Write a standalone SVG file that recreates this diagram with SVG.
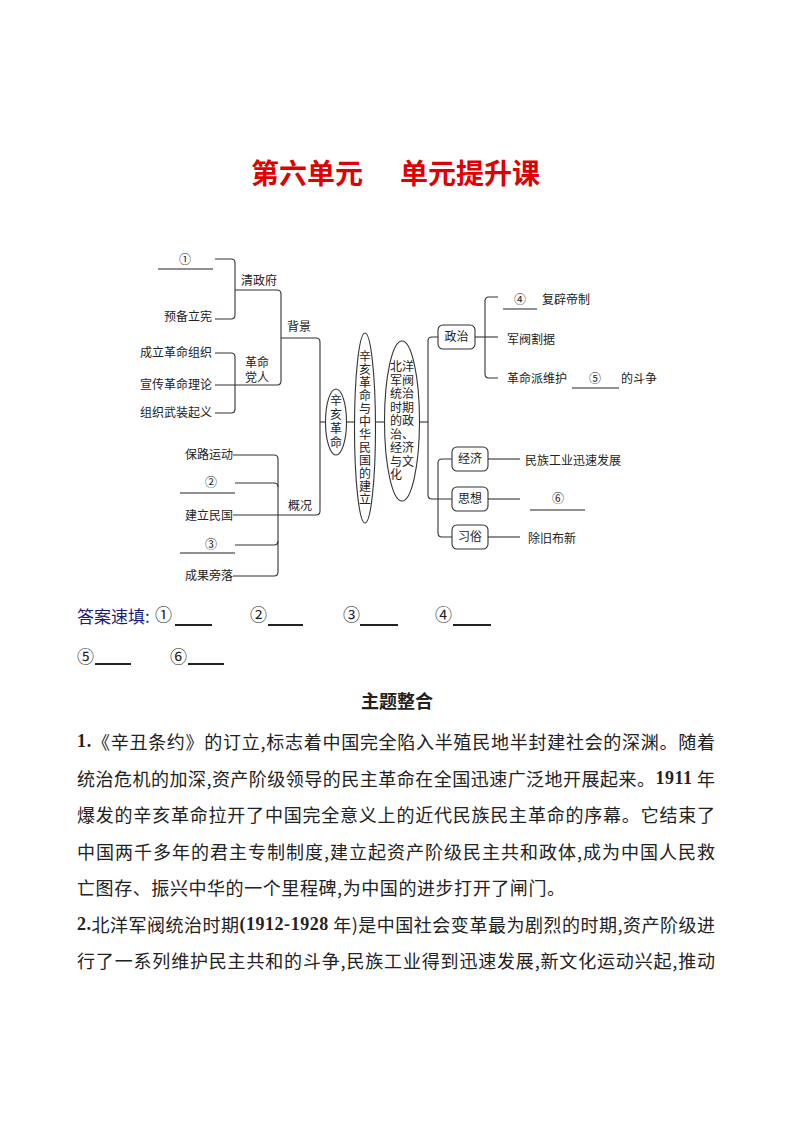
<svg xmlns="http://www.w3.org/2000/svg" width="794" height="1123" viewBox="0 0 794 1123">
<style>
.t{font-family:"Liberation Serif","Noto Sans CJK SC",serif;font-size:12px;fill:#222;dominant-baseline:central}
.e{text-anchor:end}
.m{text-anchor:middle}
.c{fill:none;stroke:#333;stroke-width:1.1}
.u{fill:none;stroke:#222;stroke-width:1.1}
.b{fill:#fff;stroke:#333;stroke-width:1.1}
.p{font-family:"Noto Sans CJK SC","Liberation Sans",sans-serif;font-size:18px;fill:#222;dominant-baseline:central}
.n{font-family:"Liberation Serif",serif;font-weight:bold}
.a{font-family:"Liberation Serif","Noto Sans CJK SC",serif;font-size:17px;fill:#222;dominant-baseline:central}
.au{fill:none;stroke:#222;stroke-width:1.8}
</style>
<rect width="794" height="1123" fill="#fff"/>
<g id="title">
<text x="307" y="172" class="m" style="font-family:'Noto Sans CJK SC',sans-serif;font-weight:bold;font-size:28px;fill:#e00000;dominant-baseline:central">第六单元</text>
<text x="470" y="172" class="m" style="font-family:'Noto Sans CJK SC',sans-serif;font-weight:bold;font-size:28px;fill:#e00000;dominant-baseline:central">单元提升课</text>
</g>
<g id="connectors">
<path class="c" d="M215,259 H231 Q235,259 235,263 V315 Q235,319 231,319 H215"/>
<path class="c" d="M235,290 H277 Q281,290 281,294 V381 Q281,385 277,385 H215"/>
<path class="c" d="M215,353 H231 Q235,353 235,357 V409 Q235,413 231,413 H215"/>
<path class="c" d="M281,338 H316 Q320,338 320,342 V511 Q320,515 316,515 H233"/>
<path class="c" d="M233,455 H274 Q278,455 278,459 V572 Q278,576 274,576 H233"/>
<path class="c" d="M235,483 H274 Q278,483 278,487"/>
<path class="c" d="M235,545 H274 Q278,545 278,541"/>
<path class="c" d="M320,422 H325.5"/>
<path class="c" d="M346.5,422 H354.5"/>
<path class="c" d="M375.5,422 H385"/>
<path class="c" d="M419,422 H428"/>
<path class="c" d="M438,337 H432 Q428,337 428,341 V495 Q428,499 432,499 H452"/>
<path class="c" d="M452,459 H442 Q438,459 438,463 V533 Q438,537 442,537 H452"/>
<path class="c" d="M475,337 H498"/>
<path class="c" d="M498,297 H489 Q485,297 485,301 V374 Q485,378 489,378 H498"/>
<path class="c" d="M488,459 H520"/>
<path class="c" d="M488,499 H520"/>
<path class="c" d="M488,537 H520"/>
</g>
<g id="blanks">
<line class="u" x1="158" y1="269" x2="213" y2="269"/>
<line class="u" x1="180" y1="493" x2="235" y2="493"/>
<line class="u" x1="180" y1="553" x2="235" y2="553"/>
<line class="u" x1="503" y1="309" x2="537" y2="309"/>
<line class="u" x1="572" y1="388" x2="619" y2="388"/>
<line class="u" x1="530" y1="510" x2="585" y2="510"/>
</g>
<g id="n-blank1"><text class="t m" x="185" y="260">①</text></g>
<g id="n-qingzhengfu"><text class="t" x="241" y="281">清政府</text></g>
<g id="n-yubei"><text class="t e" x="212" y="317">预备立宪</text></g>
<g id="n-chengli"><text class="t e" x="212" y="353">成立革命组织</text></g>
<g id="n-xuanchuan"><text class="t e" x="212" y="385">宣传革命理论</text></g>
<g id="n-zuzhi"><text class="t e" x="212" y="413">组织武装起义</text></g>
<g id="n-gemingdangren"><text class="t" x="245" y="363">革命</text><text class="t" x="245" y="378">党人</text></g>
<g id="n-beijing"><text class="t" x="287" y="327">背景</text></g>
<g id="n-baolu"><text class="t e" x="233" y="455">保路运动</text></g>
<g id="n-blank2"><text class="t m" x="211" y="483">②</text></g>
<g id="n-jianli"><text class="t e" x="233" y="516">建立民国</text></g>
<g id="n-blank3"><text class="t m" x="211" y="545">③</text></g>
<g id="n-chengguo"><text class="t e" x="233" y="576">成果旁落</text></g>
<g id="n-gaikuang"><text class="t" x="288" y="506">概况</text></g>
<g id="n-xinhai">
<ellipse class="b" cx="336" cy="422" rx="10.5" ry="33"/>
<text class="t m" x="336" y="401">辛</text><text class="t m" x="336" y="415">亥</text><text class="t m" x="336" y="429">革</text><text class="t m" x="336" y="443">命</text>
</g>
<g id="n-jianli-mg">
<ellipse class="b" cx="365" cy="428" rx="10.5" ry="95"/>
<text class="t m" x="365" y="356.5">辛</text><text class="t m" x="365" y="369.5">亥</text><text class="t m" x="365" y="382.5">革</text><text class="t m" x="365" y="395.5">命</text><text class="t m" x="365" y="408.5">与</text><text class="t m" x="365" y="421.5">中</text><text class="t m" x="365" y="434.5">华</text><text class="t m" x="365" y="447.5">民</text><text class="t m" x="365" y="460.5">国</text><text class="t m" x="365" y="473.5">的</text><text class="t m" x="365" y="486.5">建</text><text class="t m" x="365" y="499.5">立</text>
</g>
<g id="n-beiyang">
<ellipse class="b" cx="402" cy="421" rx="17.5" ry="80"/>
<text class="t" x="390" y="367">北洋</text><text class="t" x="390" y="380.5">军阀</text><text class="t" x="390" y="394">统治</text><text class="t" x="390" y="407.5">时期</text><text class="t" x="390" y="421">的政</text><text class="t" x="390" y="434.5">治、</text><text class="t" x="390" y="448">经济</text><text class="t" x="390" y="461.5">与文</text><text class="t" x="390" y="475">化</text>
</g>
<g id="n-zhengzhi"><rect class="b" x="438" y="325" width="37" height="24" rx="5"/><text class="t m" x="456.5" y="337">政治</text></g>
<g id="n-jingji"><rect class="b" x="452" y="447" width="36" height="24" rx="5"/><text class="t m" x="470" y="459">经济</text></g>
<g id="n-sixiang"><rect class="b" x="452" y="487" width="36" height="24" rx="5"/><text class="t m" x="470" y="499">思想</text></g>
<g id="n-xisu"><rect class="b" x="452" y="525" width="36" height="24" rx="5"/><text class="t m" x="470" y="537">习俗</text></g>
<g id="n-fubi"><text class="t m" x="520" y="300">④</text><text class="t" x="542" y="300">复辟帝制</text></g>
<g id="n-junfa"><text class="t" x="507" y="340">军阀割据</text></g>
<g id="n-weihu"><text class="t" x="507" y="379">革命派维护</text><text class="t m" x="595" y="379">⑤</text><text class="t" x="621" y="379">的斗争</text></g>
<g id="n-minzu"><text class="t" x="525" y="461">民族工业迅速发展</text></g>
<g id="n-blank6"><text class="t m" x="558" y="499">⑥</text></g>
<g id="n-chujiu"><text class="t" x="528" y="539">除旧布新</text></g>
<g id="answers">
<text class="a" x="77" y="615"><tspan style="fill:#1a1a80;font-family:'Noto Sans CJK SC',sans-serif">答案速填:</tspan></text>
<text class="a" x="155" y="615">①</text><line class="au" x1="175" y1="625" x2="212" y2="625"/>
<text class="a" x="250" y="615">②</text><line class="au" x1="268" y1="625" x2="303" y2="625"/>
<text class="a" x="343" y="615">③</text><line class="au" x1="360" y1="625" x2="398" y2="625"/>
<text class="a" x="435" y="615">④</text><line class="au" x1="453" y1="625" x2="491" y2="625"/>
<text class="a" x="77" y="657">⑤</text><line class="au" x1="95" y1="664" x2="131" y2="664"/>
<text class="a" x="170" y="657">⑥</text><line class="au" x1="188" y1="664" x2="224" y2="664"/>
</g>
<g id="body">
<text class="p m" x="397" y="700" style="font-weight:bold">主题整合</text>
<text class="p" x="77" y="741" textLength="638" lengthAdjust="spacing"><tspan class="n">1.</tspan>《辛丑条约》的订立,标志着中国完全陷入半殖民地半封建社会的深渊。随着</text>
<text class="p" x="77" y="777.5" textLength="638" lengthAdjust="spacing">统治危机的加深,资产阶级领导的民主革命在全国迅速广泛地开展起来。<tspan class="n">1911</tspan> 年</text>
<text class="p" x="77" y="814" textLength="638" lengthAdjust="spacing">爆发的辛亥革命拉开了中国完全意义上的近代民族民主革命的序幕。它结束了</text>
<text class="p" x="77" y="850.5" textLength="638" lengthAdjust="spacing">中国两千多年的君主专制制度,建立起资产阶级民主共和政体,成为中国人民救</text>
<text class="p" x="77" y="887" textLength="488" lengthAdjust="spacing">亡图存、振兴中华的一个里程碑,为中国的进步打开了闸门。</text>
<text class="p" x="77" y="923.5" textLength="638" lengthAdjust="spacing"><tspan class="n">2.</tspan>北洋军阀统治时期<tspan class="n">(1912-1928</tspan> 年)是中国社会变革最为剧烈的时期,资产阶级进</text>
<text class="p" x="77" y="960" textLength="638" lengthAdjust="spacing">行了一系列维护民主共和的斗争,民族工业得到迅速发展,新文化运动兴起,推动</text>
</g>
</svg>
